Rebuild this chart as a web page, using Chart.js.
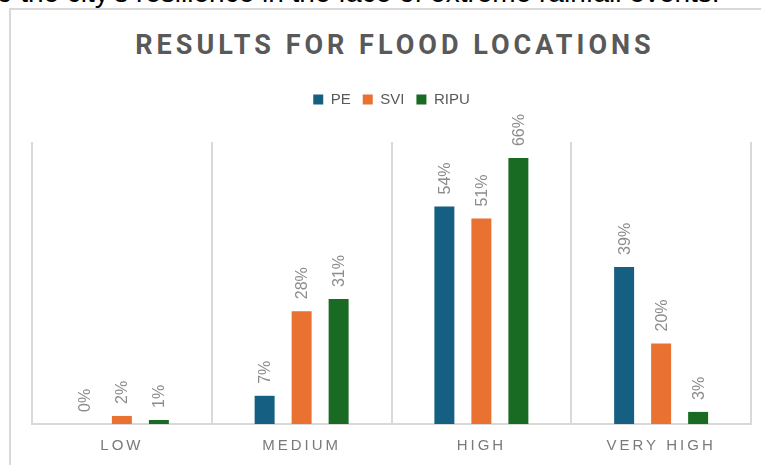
<!DOCTYPE html>
<html>
<head>
<meta charset="utf-8">
<script src="https://cdn.jsdelivr.net/npm/chart.js@4"></script>
<style>
    body { margin: 0; background: #ffffff; overflow: hidden; }
    #page { position: relative; width: 761px; height: 465px; overflow: hidden; }
    #above { position: absolute; left: -11px; top: -21px; font: 28px/28px "Liberation Sans", sans-serif; color: #000; white-space: nowrap; }
    #frame { position: absolute; left: 9px; top: 8px; width: 900px; height: 600px; border: 2px solid #d9d9d9; }
    #title { position: absolute; left: 0; top: 32px; width: 786px; text-align: center; font: bold 27px/27px Roboto, sans-serif; letter-spacing: 4px; padding-left: 4px; box-sizing: border-box; color: #595959; }
    #box { position: absolute; left: 0; top: 0; width: 761px; height: 468px; }
</style>
</head>
<body>
<div id="page">
    <div id="above">to the city's resilience in the face of extreme rainfall events.</div>
    <div id="frame"></div>
    <div id="title">RESULTS FOR FLOOD LOCATIONS</div>
    <div id="box"><canvas id="chart"></canvas></div>
</div>
<script>
const categories = ["LOW", "MEDIUM", "HIGH", "VERY HIGH"];
const seriesNames = ["PE", "SVI", "RIPU"];
const peValues = [0, 7, 54, 39];
const sviValues = [2, 28, 51, 20];
const ripuValues = [1, 31, 66, 3];
const seriesColors = ["#156082", "#e97132", "#196b24"];

// push the plot area down below the legend
const legendGap = {
    id: "legendGap",
    beforeInit(chart) {
        if (!chart.legend) return;
        const fit = chart.legend.fit;
        chart.legend.fit = function () {
            fit.bind(chart.legend)();
            this.height += 25;
        };
    }
};

// rotated value labels above bars, then letter spacing for the x labels
const barLabels = {
    id: "barLabels",
    afterDatasetsDraw(chart) {
        const ctx = chart.ctx;
        chart.data.datasets.forEach((ds, i) => {
            const meta = chart.getDatasetMeta(i);
            meta.data.forEach((bar, j) => {
                ctx.save();
                ctx.translate(bar.x + 1, bar.y - 12);
                ctx.rotate(-Math.PI / 2);
                ctx.font = "16px 'Liberation Sans', sans-serif";
                ctx.fillStyle = "#8c8c8c";
                ctx.textAlign = "left";
                ctx.textBaseline = "middle";
                ctx.fillText(ds.data[j] + "%", 0, 0);
                ctx.restore();
            });
        });
        ctx.letterSpacing = "3px";
    },
    afterDraw(chart) {
        chart.ctx.letterSpacing = "0px";
    }
};

const values = [peValues, sviValues, ripuValues];

new Chart(document.getElementById("chart"), {
    type: "bar",
    data: {
        labels: categories,
        datasets: seriesNames.map((name, i) => ({
            label: name,
            data: values[i],
            backgroundColor: seriesColors[i],
            borderWidth: 0,
            categoryPercentage: 0.6175,
            barPercentage: 0.54
        }))
    },
    options: {
        responsive: true,
        maintainAspectRatio: false,
        animation: false,
        layout: { padding: { top: 80, left: 32, right: 10, bottom: 0 } },
        plugins: {
            tooltip: { enabled: false },
            legend: {
                position: "top",
                labels: {
                    boxWidth: 10,
                    boxHeight: 10,
                    padding: 12,
                    color: "#595959",
                    font: { family: "'Liberation Sans', sans-serif", size: 15 }
                }
            }
        },
        scales: {
            x: {
                grid: { color: "#d9d9d9", lineWidth: 2, drawTicks: false, offset: true },
                border: { color: "#d9d9d9", width: 2 },
                ticks: {
                    z: 1,
                    padding: 13,
                    color: "#7a7a7a",
                    font: { family: "'Liberation Sans', sans-serif", size: 15 }
                }
            },
            y: {
                display: false,
                min: 0,
                max: 70
            }
        }
    },
    plugins: [legendGap, barLabels]
});
</script>
</body>
</html>
